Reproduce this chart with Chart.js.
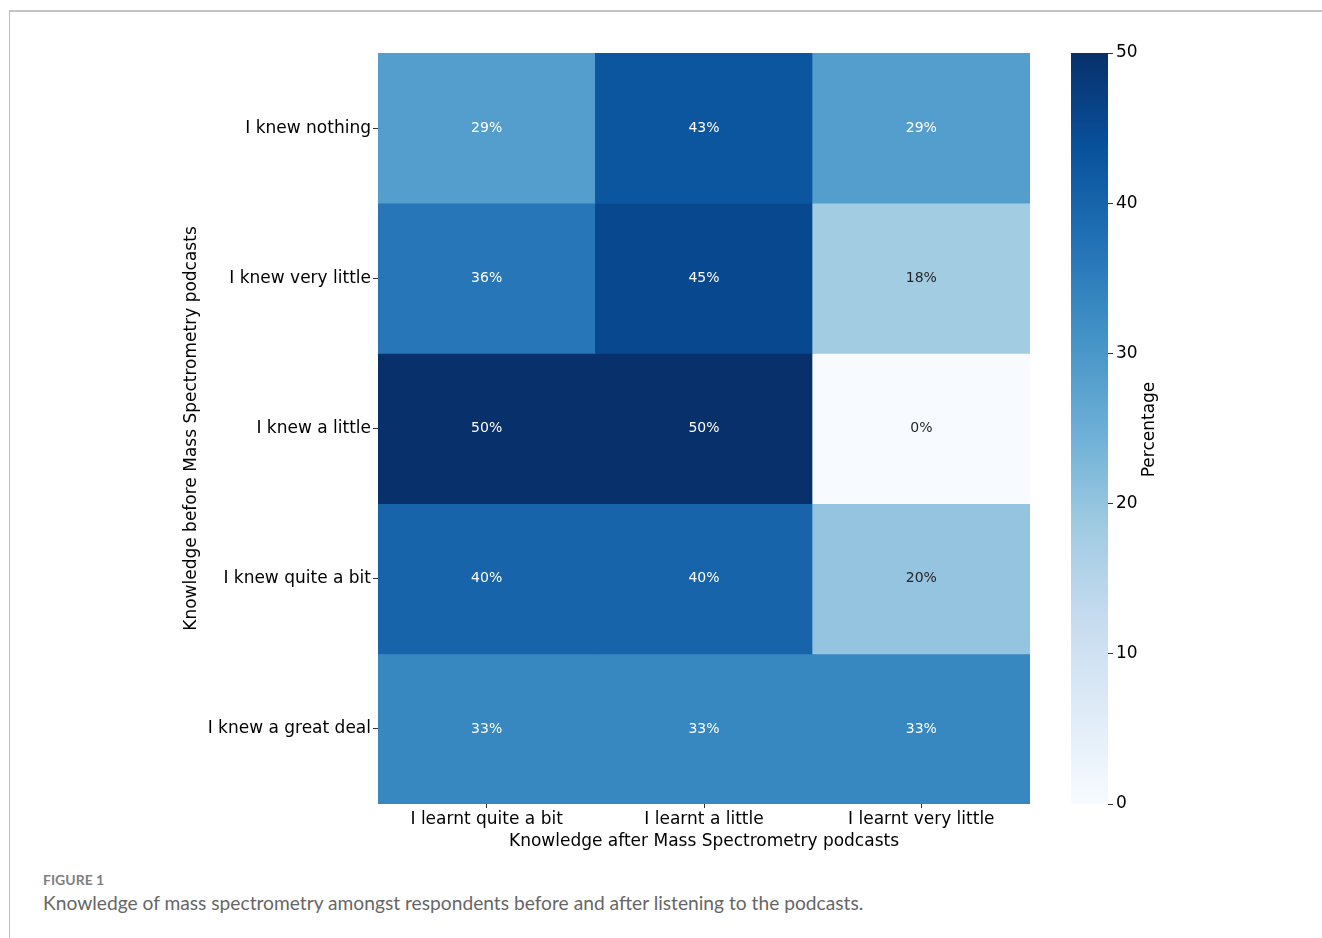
<!DOCTYPE html>
<html>
<head>
<meta charset="utf-8">
<script src="https://cdn.jsdelivr.net/npm/chart.js@4"></script>
<style>
  body { margin: 0; background: #fff; width: 1322px; height: 938px; overflow: hidden; position: relative; }
  #frame { position: absolute; left: 9px; top: 10px; right: 0; bottom: 0; border-top: 2px solid #c4c4c4; border-left: 1px solid #bdbdbd; }
  #heatWrap { position: absolute; left: 0; top: 0; width: 1050px; height: 860px; }
  #barWrap { position: absolute; left: 1060px; top: 0; width: 120px; height: 860px; }
  .figNo { position: absolute; left: 43px; top: 871px; font-family: Lato, "Open Sans", sans-serif; font-size: 14px; font-weight: bold; color: #808080; }
  .caption { position: absolute; left: 43px; top: 891px; font-family: Lato, "Open Sans", sans-serif; font-size: 19.2px; color: #666; }
</style>
</head>
<body>
<div id="frame"></div>
<div id="heatWrap"><canvas id="heatmap"></canvas></div>
<div id="barWrap"><canvas id="colorbar"></canvas></div>
<div class="figNo">FIGURE 1</div>
<div class="caption">Knowledge of mass spectrometry amongst respondents before and after listening to the podcasts.</div>

<script>
'use strict';

// rows (before) and columns (after)
let beforeLabels = ['I knew nothing', 'I knew very little', 'I knew a little', 'I knew quite a bit', 'I knew a great deal'];
let afterLabels = ['I learnt quite a bit', 'I learnt a little', 'I learnt very little'];

// percentage of each row, one array per row
let knewNothing = [28.57, 42.86, 28.57];
let knewVeryLittle = [36.36, 45.45, 18.18];
let knewALittle = [50, 50, 0];
let knewQuiteABit = [40, 40, 20];
let knewGreatDeal = [33.33, 33.33, 33.33];
let rows = [knewNothing, knewVeryLittle, knewALittle, knewQuiteABit, knewGreatDeal];

let scaleMin = 0;
let scaleMax = 50;
let scaleTicks = [0, 10, 20, 30, 40, 50];

Chart.defaults.font.family = '"DejaVu Sans", sans-serif';
Chart.defaults.color = '#000';

// matplotlib "Blues"
let blues = [
    [247, 251, 255], [222, 235, 247], [198, 219, 239], [158, 202, 225],
    [107, 174, 214], [66, 146, 198], [33, 113, 181], [8, 81, 156], [8, 48, 107]
];

function bluesRgb(v) {
    let t = (v - scaleMin) / (scaleMax - scaleMin);
    t = Math.max(0, Math.min(1, t)) * (blues.length - 1);
    let i = Math.min(Math.floor(t), blues.length - 2);
    let f = t - i;
    let c = [0, 1, 2].map(k => Math.round(blues[i][k] + (blues[i + 1][k] - blues[i][k]) * f));
    return c;
}
function bluesColor(v) {
    let c = bluesRgb(v);
    return 'rgb(' + c[0] + ',' + c[1] + ',' + c[2] + ')';
}
function textColorFor(v) {
    let c = bluesRgb(v).map(x => {
        x = x / 255;
        return x <= 0.03928 ? x / 12.92 : Math.pow((x + 0.055) / 1.055, 2.4);
    });
    let lum = 0.2126 * c[0] + 0.7152 * c[1] + 0.0722 * c[2];
    return lum > 0.408 ? '#262626' : '#ffffff';
}

// each row is one stacked dataset of unit height
let datasets = rows.map((row, r) => ({
    label: beforeLabels[r],
    data: row.map(() => 1),
    pct: row,
    backgroundColor: row.map(v => bluesColor(v)),
    borderWidth: 0,
    barPercentage: 1,
    categoryPercentage: 1
}));

let cellText = {
    id: 'cellText',
    afterDatasetsDraw(chart) {
        let ctx = chart.ctx;
        ctx.save();
        ctx.font = '14px "DejaVu Sans"';
        ctx.textAlign = 'center';
        ctx.textBaseline = 'middle';
        chart.data.datasets.forEach((ds, d) => {
            chart.getDatasetMeta(d).data.forEach((bar, i) => {
                let v = ds.pct[i];
                ctx.fillStyle = textColorFor(v);
                ctx.fillText(Math.round(v) + '%', bar.x, (bar.y + bar.base) / 2);
            });
        });
        ctx.restore();
    }
};

new Chart(document.getElementById('heatmap').getContext('2d'), {
    type: 'bar',
    data: { labels: afterLabels, datasets: datasets },
    options: {
        responsive: true,
        maintainAspectRatio: false,
        animation: false,
        layout: { padding: { left: 177, top: 53, right: 20, bottom: 0 } },
        plugins: { legend: { display: false }, tooltip: { enabled: false } },
        scales: {
            x: {
                stacked: true,
                border: { display: false },
                grid: { offset: false, drawOnChartArea: false, drawTicks: true, tickLength: 4, tickColor: '#333' },
                ticks: { font: { size: 17 }, padding: 1, maxRotation: 0, color: '#000' },
                title: { display: true, text: 'Knowledge after Mass Spectrometry podcasts', font: { size: 17 }, color: '#000', padding: { top: 0, bottom: 8 } },
                afterFit(scale) { scale.height = 56; }
            },
            y: {
                stacked: true,
                reverse: true,
                min: 0,
                max: beforeLabels.length,
                border: { display: false },
                grid: { drawOnChartArea: false, drawTicks: true, tickLength: 5, tickColor: '#333' },
                ticks: {
                    font: { size: 17 },
                    padding: 2,
                    color: '#000',
                    callback: value => beforeLabels[Math.floor(value)]
                },
                afterBuildTicks(scale) {
                    scale.ticks = beforeLabels.map((_, i) => ({ value: i + 0.5 }));
                },
                title: { display: true, text: 'Knowledge before Mass Spectrometry podcasts', font: { size: 17 }, color: '#000', padding: { top: 4, bottom: 0 } },
                afterFit(scale) { scale.width = 201; }
            }
        }
    },
    plugins: [cellText]
});

// colour bar
let barTitle = {
    id: 'barTitle',
    afterDraw(chart) {
        let ctx = chart.ctx;
        let area = chart.chartArea;
        ctx.save();
        ctx.font = '17px "DejaVu Sans"';
        ctx.fillStyle = '#000';
        ctx.textAlign = 'center';
        ctx.textBaseline = 'middle';
        ctx.translate(90, (area.top + area.bottom) / 2 + 1);
        ctx.rotate(-Math.PI / 2);
        ctx.fillText('Percentage', 0, 0);
        ctx.restore();
    }
};

new Chart(document.getElementById('colorbar').getContext('2d'), {
    type: 'bar',
    data: {
        labels: ['Percentage'],
        datasets: [{
            data: [[scaleMin, scaleMax]],
            borderWidth: 0,
            barPercentage: 1,
            categoryPercentage: 1,
            backgroundColor(context) {
                let chart = context.chart;
                if (!chart.chartArea) return null;
                let y = chart.scales.y;
                let g = chart.ctx.createLinearGradient(0, y.getPixelForValue(scaleMin), 0, y.getPixelForValue(scaleMax));
                blues.forEach((c, i) => g.addColorStop(i / (blues.length - 1), 'rgb(' + c.join(',') + ')'));
                return g;
            }
        }]
    },
    options: {
        responsive: true,
        maintainAspectRatio: false,
        animation: false,
        layout: { padding: { left: 11, top: 53, right: 0, bottom: 56 } },
        plugins: { legend: { display: false }, tooltip: { enabled: false } },
        scales: {
            x: { display: false },
            y: {
                position: 'right',
                min: scaleMin,
                max: scaleMax,
                border: { display: false },
                grid: { drawOnChartArea: false, drawTicks: true, tickLength: 5, tickColor: '#333' },
                ticks: { font: { size: 17 }, padding: 3, color: '#000' },
                afterBuildTicks(scale) {
                    scale.ticks = scaleTicks.map(v => ({ value: v }));
                },
                afterFit(scale) { scale.width = 72; }
            }
        }
    },
    plugins: [barTitle]
});
</script>
</body>
</html>
